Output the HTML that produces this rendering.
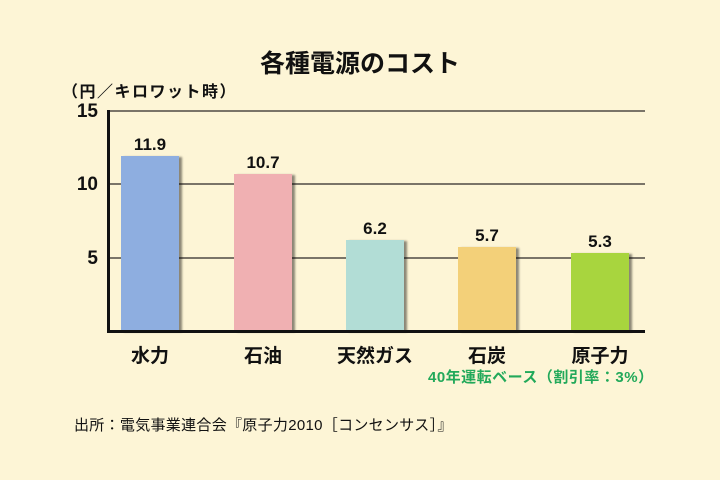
<!DOCTYPE html>
<html><head><meta charset="utf-8"><style>
body{margin:0;width:720px;height:480px;background:#fdf5d6;font-family:"Liberation Sans","Noto Sans CJK JP",sans-serif;position:relative;overflow:hidden}
.a{position:absolute;white-space:nowrap}
.bar{position:absolute;box-shadow:3px 1px 2px rgba(0,0,0,.45)}
.v{position:absolute;font-weight:bold;font-size:17px;color:#111;width:80px;text-align:center}
.x{position:absolute;font-weight:bold;font-size:19px;color:#111;width:120px;text-align:center;top:341px}
.g{position:absolute;left:108px;width:537px;height:2px;background:#7a7468}
.t{position:absolute;font-weight:bold;font-size:19px;color:#111;width:40px;text-align:right;left:58px}
</style></head><body>
<div class="a" style="left:0;width:720px;text-align:center;top:44px;font-size:25px;font-weight:bold;color:#111">各種電源のコスト</div>
<div class="a" style="left:62px;top:78px;font-size:16px;font-weight:bold;color:#111;letter-spacing:1.5px">（円／キロワット時）</div>
<div class="g" style="top:110px"></div>
<div class="g" style="top:183px"></div>
<div class="g" style="top:257px"></div>
<div class="t" style="top:101px">15</div>
<div class="t" style="top:174px">10</div>
<div class="t" style="top:248px">5</div>
<div class="bar" style="left:121px;top:156px;width:58px;height:175px;background:#8eaee0"></div>
<div class="bar" style="left:234px;top:174px;width:58px;height:157px;background:#f0b0b2"></div>
<div class="bar" style="left:346px;top:240px;width:58px;height:91px;background:#b2ddd6"></div>
<div class="bar" style="left:458px;top:247px;width:58px;height:84px;background:#f3d079"></div>
<div class="bar" style="left:571px;top:253px;width:58px;height:78px;background:#a8d53e"></div>
<div style="position:absolute;left:107px;top:110px;width:3px;height:223px;background:#111"></div>
<div style="position:absolute;left:107px;top:330px;width:538px;height:3px;background:#111"></div>
<div class="v" style="left:110px;top:135px">11.9</div>
<div class="v" style="left:223px;top:153px">10.7</div>
<div class="v" style="left:335px;top:219px">6.2</div>
<div class="v" style="left:447px;top:226px">5.7</div>
<div class="v" style="left:560px;top:232px">5.3</div>
<div class="x" style="left:90px">水力</div>
<div class="x" style="left:203px">石油</div>
<div class="x" style="left:315px">天然ガス</div>
<div class="x" style="left:427px">石炭</div>
<div class="x" style="left:540px">原子力</div>
<div class="a" style="left:428px;top:366px;font-size:15px;font-weight:bold;color:#22a95a;letter-spacing:0.5px">40年運転ベース（割引率：3%）</div>
<div class="a" style="left:74px;top:414px;font-size:15px;color:#111;letter-spacing:0.3px">出所：電気事業連合会『原子力2010［コンセンサス］』</div>
</body></html>
